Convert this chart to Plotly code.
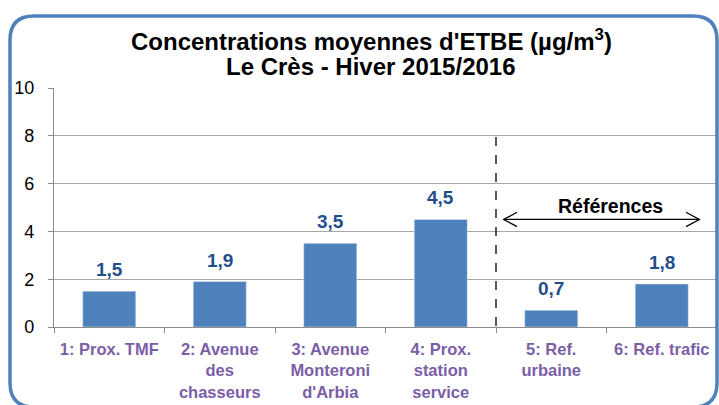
import plotly.graph_objects as go

categories = ["1: Prox. TMF", "2: Avenue<br>des<br>chasseurs", "3: Avenue<br>Monteroni<br>d'Arbia",
              "4: Prox.<br>station<br>service", "5: Ref.<br>urbaine", "6: Ref. trafic"]
values = [1.5, 1.9, 3.5, 4.5, 0.7, 1.8]
value_labels = ["1,5", "1,9", "3,5", "4,5", "0,7", "1,8"]
y_ticks = [0, 2, 4, 6, 8, 10]
title_lines = ["Concentrations moyennes d'ETBE (µg/m<sup>3</sup>)", "Le Crès - Hiver 2015/2016"]

W, H = 719, 405
ML, MR, MT, MB = 54, 2, 88, 78
PW, PH = W - ML - MR, H - MT - MB

FONT = "Liberation Sans, Arial, sans-serif"
BAR = "#4F81BD"
LBL = "#1F4E8C"
CAT = "#7B5EA7"

idx = list(range(len(categories)))

fig = go.Figure()
fig.add_trace(go.Bar(x=idx, y=values, width=0.48, marker_color=BAR, hoverinfo="skip"))

for i, (v, t) in enumerate(zip(values, value_labels)):
    fig.add_annotation(x=i, y=v, text=t, showarrow=False, yanchor="bottom", yshift=9,
                       font=dict(family=FONT, size=19, color=LBL, weight="bold"))

def px2paper(px, py):
    return (px - ML) / PW, (H - MB - py) / PH

for line, cy in zip(title_lines, [40, 66]):
    tx, ty = px2paper(371, cy)
    fig.add_annotation(xref="paper", yref="paper", x=tx, y=ty, text=line, showarrow=False,
                       xanchor="center", yanchor="middle",
                       font=dict(family=FONT, size=24, color="black", weight="bold"))

def border_path(x0, y0, x1, y1, r):
    def P(x, y):
        a, b = px2paper(x, y)
        return f"{a:.5f},{b:.5f}"
    return (f"M{P(x0 + r, y0)} L{P(x1 - r, y0)} Q{P(x1, y0)} {P(x1, y0 + r)} "
            f"L{P(x1, y1 - r)} Q{P(x1, y1)} {P(x1 - r, y1)} L{P(x0 + r, y1)} "
            f"Q{P(x0, y1)} {P(x0, y1 - r)} L{P(x0, y0 + r)} Q{P(x0, y0)} {P(x0 + r, y0)} Z")

fig.add_shape(type="path", xref="paper", yref="paper", path=border_path(10, 16, 717, 407, 24),
              line=dict(color=BAR, width=3.5), layer="above")

sep = 3.5
fig.add_shape(type="line", xref="x", yref="y", x0=sep, x1=sep, y0=7.95, y1=-0.45,
              line=dict(color="black", width=1.3, dash="dash"))

ax0, ax1, ay = 3.57, 5.34, 4.5
fig.add_shape(type="line", xref="x", yref="y", x0=ax0, x1=ax1, y0=ay, y1=ay,
              line=dict(color="black", width=1.3))
hx, hy = 0.12, 0.3
fig.add_shape(type="path", xref="x", yref="y",
              path=f"M{ax0+hx},{ay+hy} L{ax0},{ay} L{ax0+hx},{ay-hy}",
              line=dict(color="black", width=1.3))
fig.add_shape(type="path", xref="x", yref="y",
              path=f"M{ax1-hx},{ay+hy} L{ax1},{ay} L{ax1-hx},{ay-hy}",
              line=dict(color="black", width=1.3))
fig.add_annotation(x=(ax0 + ax1) / 2 + 0.08, y=ay, text="Références", showarrow=False,
                   yanchor="bottom", yshift=0,
                   font=dict(family=FONT, size=19.5, color="black", weight="bold"))

fig.update_layout(
    width=W, height=H,
    margin=dict(l=ML, r=MR, t=MT, b=MB, autoexpand=False),
    paper_bgcolor="white", plot_bgcolor="white",
    showlegend=False,
)
fig.update_xaxes(range=[-0.5, 5.5], tickvals=idx, ticktext=categories, ticks="", showgrid=False,
                 showline=True, linecolor="#8C8C8C", linewidth=1.2, zeroline=False, automargin=False,
                 tickfont=dict(family=FONT, size=16.5, color=CAT, weight="bold"),
                 ticklabelstandoff=7,
                 minor=dict(tickvals=[i + 0.5 for i in range(-1, 6)], ticks="outside", ticklen=5,
                            tickcolor="#8C8C8C", showgrid=False))
fig.update_yaxes(range=[0, 10], tickvals=y_ticks, ticks="outside", ticklen=5, tickcolor="#8C8C8C",
                 showline=True, linecolor="#8C8C8C", linewidth=1.2, showgrid=True, automargin=False,
                 gridcolor="#A6A6A6", gridwidth=1, zeroline=False,
                 tickfont=dict(family=FONT, size=18, color="black"), ticklabelstandoff=10)

fig.write_html("out.html", config={"displayModeBar": False},
               post_script="document.body.style.margin='0';document.body.style.overflow='hidden';")
